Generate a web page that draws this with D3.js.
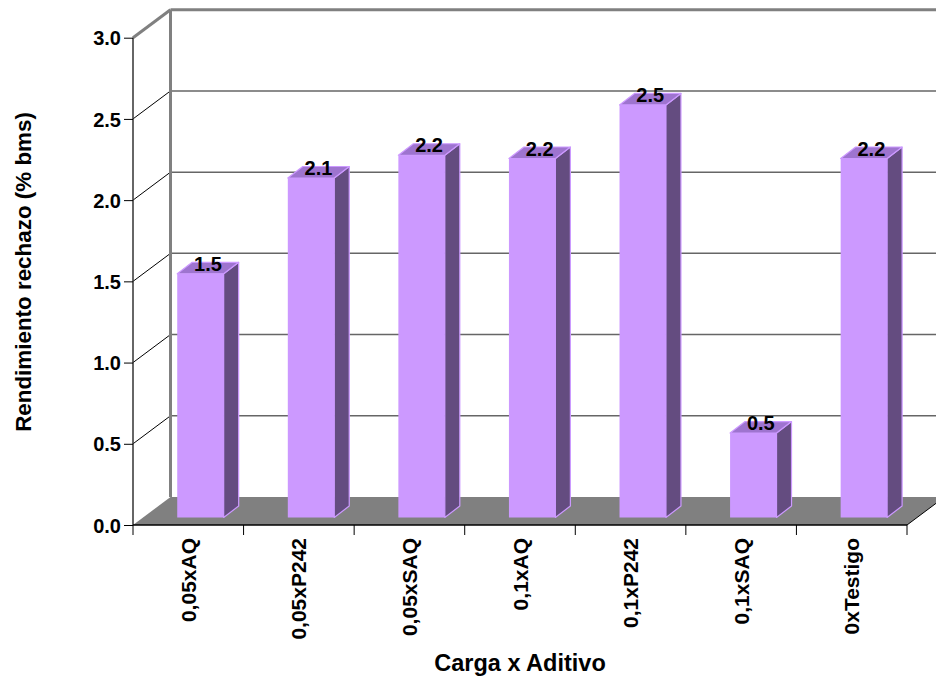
<!DOCTYPE html>
<html><head><meta charset="utf-8">
<script src="https://cdn.jsdelivr.net/npm/d3@7/dist/d3.min.js"></script>
<style>
html,body{margin:0;padding:0;background:#fff;}
text{font-family:"Liberation Sans",Arial,sans-serif;font-weight:bold;fill:#000;}
</style></head>
<body>
<svg id="chart" width="936" height="677"></svg>
<script>
const categories = ["0,05xAQ","0,05xP242","0,05xSAQ","0,1xAQ","0,1xP242","0,1xSAQ","0xTestigo"];
const values = [1.50, 2.09, 2.23, 2.21, 2.54, 0.52, 2.21];
const yTicks = [0, 0.5, 1.0, 1.5, 2.0, 2.5, 3.0];
const yTitle = "Rendimiento rechazo (% bms)";
const xTitle = "Carga x Aditivo";

const svg = d3.select("#chart");
const W = 936, H = 677;

// front plane
const x = d3.scaleBand().domain(categories).range([133, 907]).paddingInner(0).paddingOuter(0);
const y = d3.scaleLinear().domain([0, 3]).range([525, 37.7]);
const DX = 37.5, DY = -28;           // wall depth
const bx0 = 0.40, bwF = 0.42;        // bar position within band
const bOffX = 0, bOffY = -7.5;       // bar front offset into depth
const sDX = 15, sDY = -11.5;         // bar depth

const pts = a => a.map(p => p.join(",")).join(" ");

const g = svg.append("g");
const yMax = 3;
// floor
g.append("polygon")
  .attr("points", pts([[x.range()[0], y(0)], [x.range()[1], y(0)], [x.range()[1] + DX, y(0) + DY], [x.range()[0] + DX, y(0) + DY]]))
  .attr("fill", "#808080");

// gridlines on back wall and left wall
yTicks.forEach(t => {
  if (t === 0) return;
  const yy = y(t);
  const top = t === yMax;
  g.append("line")
    .attr("x1", x.range()[0] + DX).attr("x2", W + 5)
    .attr("y1", yy + DY).attr("y2", yy + DY)
    .attr("stroke", top ? "#808080" : "#666")
    .attr("stroke-width", top ? 3 : 1.5);
  g.append("line")
    .attr("x1", x.range()[0]).attr("y1", yy)
    .attr("x2", x.range()[0] + DX).attr("y2", yy + DY)
    .attr("stroke", top ? "#808080" : "#000")
    .attr("stroke-width", top ? 3 : 1);
});
// back wall left edge
g.append("line")
  .attr("x1", x.range()[0] + DX).attr("x2", x.range()[0] + DX)
  .attr("y1", y(yMax) + DY).attr("y2", y(0) + DY)
  .attr("stroke", "#808080").attr("stroke-width", 3);

// front y axis
g.append("line")
  .attr("x1", x.range()[0]).attr("x2", x.range()[0])
  .attr("y1", y(yMax)).attr("y2", y(0))
  .attr("stroke", "#333").attr("stroke-width", 1.5);
const yAxis = d3.axisLeft(y).tickValues(yTicks).tickFormat(d3.format(".1f")).tickSize(9).tickPadding(3);
const ya = svg.append("g").attr("transform", `translate(${x.range()[0]},0)`).call(yAxis);
ya.select(".domain").remove();
ya.selectAll("line").attr("stroke", "#000");
ya.selectAll("text").style("font-size", "20px").attr("fill", "#000").attr("dy", "0.36em");

// bars
const bars = svg.append("g");
categories.forEach((c, i) => {
  const v = values[i];
  const xl = x(c) + x.bandwidth() * bx0 + bOffX;
  const xr = xl + x.bandwidth() * bwF;
  const yb = y(0) + bOffY;
  const yt = y(v) + bOffY;
  bars.append("polygon")
    .attr("points", pts([[xr, yb], [xr + sDX, yb + sDY], [xr + sDX, yt + sDY], [xr, yt]]))
    .attr("fill", "#644C80").attr("stroke", "#CC99FF").attr("stroke-width", 1.2).attr("stroke-linejoin", "round");
  bars.append("polygon")
    .attr("points", pts([[xl, yt], [xl + sDX, yt + sDY], [xr + sDX, yt + sDY], [xr, yt]]))
    .attr("fill", "#9E74CF").attr("stroke", "#CC99FF").attr("stroke-width", 1.2).attr("stroke-linejoin", "round");
  bars.append("rect")
    .attr("x", xl).attr("y", yt).attr("width", xr - xl).attr("height", yb - yt)
    .attr("fill", "#CC99FF");
  bars.append("text")
    .attr("x", (xl + xr) / 2 + sDX / 2).attr("y", yt - 3)
    .attr("text-anchor", "middle").style("font-size", "20px")
    .text(d3.format(".1f")(v));
});

// x axis line, right diagonal
svg.append("line")
  .attr("x1", x.range()[0]).attr("x2", x.range()[1])
  .attr("y1", y(0)).attr("y2", y(0)).attr("stroke", "#000").attr("stroke-width", 1.5);
svg.append("line")
  .attr("x1", x.range()[1]).attr("y1", y(0))
  .attr("x2", x.range()[1] + DX).attr("y2", y(0) + DY).attr("stroke", "#000").attr("stroke-width", 1);
const bounds = categories.map(c => x(c)).concat([x.range()[1]]);
svg.selectAll(".xt").data(bounds).enter().append("line")
  .attr("x1", d => d).attr("x2", d => d)
  .attr("y1", y(0)).attr("y2", y(0) + 10).attr("stroke", "#000").attr("stroke-width", 1);
svg.selectAll(".xl").data(categories).enter().append("text")
  .attr("transform", d => `translate(${x(d) + x.bandwidth() / 2 + 7.5},${y(0) + 13}) rotate(-90)`)
  .attr("text-anchor", "end").style("font-size", "21px")
  .text(d => d);

// titles
svg.append("text")
  .attr("transform", `translate(${31},${272}) rotate(-90)`)
  .attr("text-anchor", "middle").style("font-size", "22.4px").text(yTitle);
svg.append("text")
  .attr("x", 520).attr("y", 671)
  .attr("text-anchor", "middle").style("font-size", "23.5px").text(xTitle);
</script>
</body></html>
